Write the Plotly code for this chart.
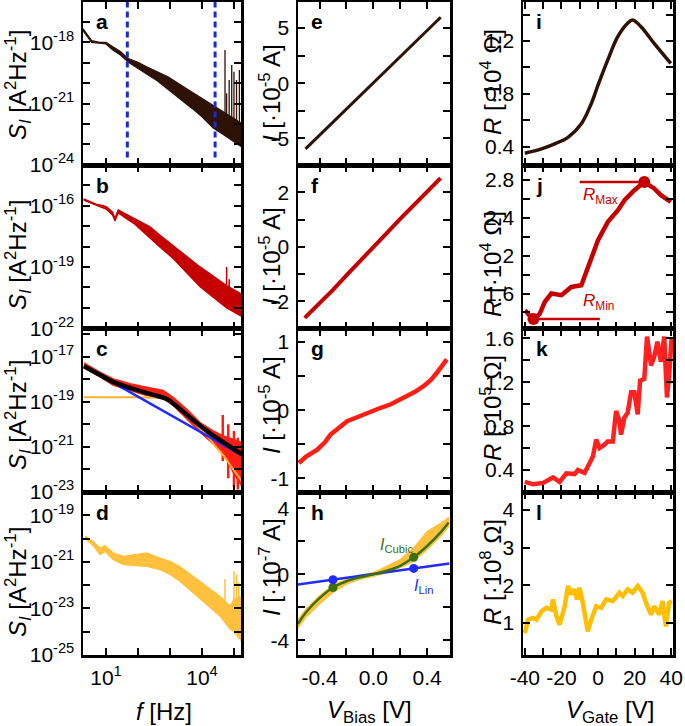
import plotly.graph_objects as go

W, H = 685, 726
FONT = "Liberation Sans"

# ---------------- data ----------------
# Column 1: noise spectra, stored as log10(f) and log10(S_I) envelopes of the noisy band
a_logf = [0.28, 0.55, 0.8, 1.0, 1.2, 1.45, 1.7, 2.0, 2.27, 2.6, 2.95, 3.3, 3.7, 4.0, 4.35, 4.7, 5.0, 5.22]
a_hi = [-17.33, -17.92, -18.0, -18.0, -18.2, -18.45, -18.8, -18.98, -19.2, -19.45, -19.7, -20.05, -20.45, -20.75, -21.1, -21.45, -21.75, -21.95]
a_lo = [-17.43, -18.0, -18.06, -18.08, -18.36, -18.62, -18.98, -19.28, -19.55, -19.88, -20.28, -20.75, -21.25, -21.65, -22.2, -22.55, -22.85, -23.1]
a_spike_logf = [4.41, 4.72, 4.77, 4.85, 4.93, 5.0, 5.08, 5.17]
a_spike_top = [-20.9, -18.38, -20.5, -19.84, -19.11, -19.44, -19.84, -19.36]
a_spike_bot = [-22.2, -22.5, -22.5, -22.6, -22.7, -22.8, -22.9, -23.0]
a_marker_logf = [1.666, 4.41]

b_logf = [0.3, 0.5, 0.71, 0.9, 1.02, 1.2, 1.28, 1.38, 1.5, 1.7, 1.9, 2.1, 2.375, 2.7, 3.1, 3.5, 3.94, 4.35, 4.77, 5.22]
b_hi = [-15.66, -15.8, -15.93, -15.98, -16.05, -16.3, -16.6, -16.2, -16.3, -16.45, -16.6, -16.8, -17.03, -17.45, -17.93, -18.45, -18.99, -19.45, -19.9, -20.3]
b_lo = [-15.72, -15.86, -16.0, -16.1, -16.18, -16.45, -16.75, -16.35, -16.48, -16.7, -16.9, -17.2, -17.6, -18.05, -18.58, -19.25, -19.97, -20.5, -21.0, -21.4]
b_spike_logf = [4.77, 4.85]
b_spike_top = [-19.0, -19.6]
b_spike_bot = [-20.6, -20.9]

c_logf = [0.31, 0.81, 1.23, 1.75, 2.27, 2.79, 3.1, 3.52, 3.94, 4.35, 4.67, 4.98, 5.24]
c_hi = [-17.27, -17.68, -17.98, -18.2, -18.35, -18.5, -18.8, -19.32, -19.92, -20.29, -20.51, -20.66, -20.8]
c_lo = [-17.49, -17.9, -18.28, -18.5, -18.73, -18.88, -19.17, -19.77, -20.36, -20.88, -21.25, -22.15, -22.75]
c_spike_logf = [4.65, 4.82, 5.0, 5.12]
c_spike_top = [-19.59, -20.0, -20.3, -20.6]
c_spike_bot = [-21.63, -22.4, -22.8, -22.9]
c_fit_logf = [0.31, 0.8, 1.23, 1.85, 2.48, 2.9, 3.21, 3.625, 4.15, 4.67, 5.24]
c_fit_total = [-17.42, -17.8, -18.13, -18.43, -18.7, -18.88, -19.2, -19.7, -20.29, -20.8, -21.33]
c_lin_logf = [0.31, 5.24]
c_lin = [-17.42, -21.38]
c_lor_logf = [0.31, 1.5, 2.5, 2.9, 3.1, 3.31, 3.52, 3.73, 3.94, 4.15, 4.4, 4.67, 4.95, 5.24]
c_lor = [-18.8, -18.8, -18.82, -18.9, -19.05, -19.28, -19.55, -19.88, -20.2, -20.5, -20.95, -21.4, -21.95, -22.52]

d_logf = [0.34, 0.6, 0.81, 0.97, 1.23, 1.54, 1.85, 2.27, 2.69, 3.0, 3.31, 3.73, 4.15, 4.56, 4.88, 5.0, 5.19, 5.22]
d_hi = [-19.88, -20.13, -20.41, -20.31, -20.62, -20.77, -20.7, -20.62, -20.84, -20.98, -21.2, -21.62, -22.05, -22.48, -22.9, -22.6, -22.5, -22.55]
d_lo = [-19.98, -20.31, -20.7, -20.56, -20.91, -21.12, -21.17, -21.2, -21.34, -21.55, -21.84, -22.33, -22.83, -23.33, -23.9, -24.0, -24.33, -24.4]
d_spike_logf = [4.72, 5.0, 5.08, 5.15]
d_spike_top = [-21.74, -21.41, -21.55, -21.9]
d_spike_bot = [-23.3, -23.6, -23.8, -24.0]

# Column 2: I-V curves
e_v = [-0.504, -0.25, 0.0, 0.25, 0.501]
e_i = [-5.94, -2.95, 0.02, 3.0, 5.97]

f_v = [-0.51, -0.4, -0.3, -0.2, -0.1, 0.0, 0.1, 0.2, 0.3, 0.4, 0.5]
f_i = [-2.61, -2.08, -1.58, -1.05, -0.55, -0.02, 0.5, 1.02, 1.52, 2.02, 2.52]

g_v = [-0.553, -0.5, -0.417, -0.36, -0.318, -0.26, -0.195, -0.13, -0.072, 0.0, 0.06, 0.126, 0.19, 0.25, 0.31, 0.373, 0.43, 0.472, 0.51, 0.546]
g_i = [-0.774, -0.68, -0.578, -0.47, -0.357, -0.27, -0.162, -0.11, -0.063, 0.0, 0.04, 0.084, 0.15, 0.206, 0.27, 0.353, 0.45, 0.55, 0.65, 0.746]

h_v = [-0.565, -0.5, -0.4, -0.3, -0.2, -0.1, 0.0, 0.1, 0.2, 0.3, 0.4, 0.5, 0.56]
h_hi = [-2.8, -2.1, -1.3, -0.65, -0.3, -0.05, 0.1, 0.5, 0.9, 1.6, 2.6, 3.1, 3.45]
h_lo = [-3.3, -2.6, -1.8, -1.1, -0.6, -0.3, -0.12, 0.1, 0.4, 0.8, 1.5, 2.3, 2.9]
h_cubic_v = [-0.56, -0.5, -0.4, -0.3, -0.2, -0.1, 0.0, 0.1, 0.2, 0.3, 0.4, 0.5, 0.56]
h_cubic_i = [-3.0, -2.3, -1.45, -0.8, -0.42, -0.18, 0.0, 0.22, 0.52, 1.03, 1.72, 2.55, 3.15]
h_lin_v = [-0.565, 0.565]
h_lin_i = [-0.63, 0.66]
h_pt_v = [-0.3, 0.3]
h_pt_cubic = [-0.8, 1.03]
h_pt_lin = [-0.33, 0.36]

# Column 3: R vs gate voltage
i_vg = [-40, -30.9, -23.7, -16.4, -9.1, -3.7, 0, 5.3, 10.8, 16.2, 18.9, 23.5, 30.7, 39.8]
i_r = [0.349, 0.382, 0.42, 0.47, 0.573, 0.725, 0.865, 1.055, 1.233, 1.335, 1.36, 1.309, 1.182, 1.03]

j_vg = [-40, -39, -35.3, -31.8, -29.1, -25.5, -20, -14.6, -9.1, -6.4, -3.7, 0, 5.4, 10.9, 14.5, 19.9, 25.3, 30.7, 34.4, 39.8]
j_r = [1.42, 1.405, 1.317, 1.388, 1.511, 1.60, 1.582, 1.67, 1.688, 1.829, 1.953, 2.164, 2.358, 2.482, 2.588, 2.694, 2.78, 2.712, 2.641, 2.57]
j_min_v, j_min_r = -35.3, 1.33
j_max_v, j_max_r = 25.3, 2.78
j_rmax_line_v = [-10, 25.3]
j_rmin_line_v = [-35.3, 1.0]

k_vg = [-40, -35.5, -30, -24.6, -21, -17.3, -12.8, -11, -7.3, -4.6, -2.8, -1, 0.8, 3.5, 5.3, 8.1, 9.9, 11.7, 12.6, 14.4, 16.2,
        18.1, 19.9, 21.7, 23, 25.3, 26.8, 28, 29, 30.7, 32.5, 34.4, 36.2, 37.7, 38.9, 40.2]
k_r = [0.292, 0.27, 0.283, 0.333, 0.292, 0.37, 0.363, 0.40, 0.375, 0.477, 0.523, 0.677, 0.60, 0.631, 0.661, 0.661, 0.938, 0.846,
       0.723, 0.877, 0.923, 1.108, 1.108, 0.908, 1.215, 1.23, 1.616, 1.477, 1.354, 1.431, 1.57, 1.385, 1.616, 1.062, 1.262, 1.60]

l_vg = [-40, -38.2, -35.5, -33.6, -30.9, -28.2, -25.5, -24.6, -22.7, -21, -18.2, -16.4, -14.6, -12.8, -11.5, -10.1, -8.3, -6.4,
        -5.6, -3.7, -1.0, 1.7, 4.5, 8.1, 11.7, 13.5, 16.2, 18.9, 21.7, 24.4, 26.2, 29, 30.7, 33.5, 35.3, 37.1, 38.9, 40.4]
l_r = [0.731, 1.089, 1.134, 1.089, 1.312, 1.403, 1.358, 1.626, 1.178, 0.954, 1.446, 1.984, 1.761, 1.895, 1.626, 1.94, 1.538, 0.866,
       0.776, 1.089, 1.446, 1.403, 1.626, 1.581, 1.806, 1.715, 1.895, 1.806, 1.984, 1.806, 1.538, 1.223, 1.446, 1.223, 1.581, 0.909,
       1.538, 1.581]

# colours
BROWN = "#2e1206"
DRED = "#c40000"
RED = "#ff1e14"
BLUE = "#1f2bff"
ORANGE = "#ffae2e"
YEL = "#ffc13d"
GREEN = "#3a7012"
GOLD = "#ffbf00"

# ---------------- geometry ----------------
COLS = [(83, 241), (298, 450), (523, 673)]
ROWS = [(1.5, 165), (165, 328.5), (328.5, 492), (492, 655)]

fig = go.Figure()


def ax(n):
    return ("x" if n == 1 else f"x{n}"), ("y" if n == 1 else f"y{n}")


def p10(v):
    return [10 ** x for x in v]


def band(n, xs, hi, lo, color, log=True):
    xa, ya = ax(n)
    if log:
        x = p10(xs) + p10(xs[::-1])
        y = p10(hi) + p10(lo[::-1])
    else:
        x = list(xs) + list(xs[::-1])
        y = list(hi) + list(lo[::-1])
    fig.add_trace(go.Scatter(x=x, y=y, mode="lines", fill="toself", fillcolor=color,
                             line=dict(color=color, width=1.2), xaxis=xa, yaxis=ya,
                             hoverinfo="skip", showlegend=False))


def spikes(n, xs, tops, bots, color, width=1.5):
    xa, ya = ax(n)
    X, Y = [], []
    for xv, t, b in zip(xs, tops, bots):
        X += [10 ** xv, 10 ** xv, None]
        Y += [10 ** b, 10 ** t, None]
    fig.add_trace(go.Scatter(x=X, y=Y, mode="lines", line=dict(color=color, width=width),
                             xaxis=xa, yaxis=ya, hoverinfo="skip", showlegend=False))


def line(n, x, y, color, width, shape="linear", dash=None):
    xa, ya = ax(n)
    fig.add_trace(go.Scatter(x=x, y=y, mode="lines", line=dict(color=color, width=width, shape=shape, dash=dash),
                             xaxis=xa, yaxis=ya, hoverinfo="skip", showlegend=False))


def pts(n, x, y, color, size):
    xa, ya = ax(n)
    fig.add_trace(go.Scatter(x=x, y=y, mode="markers", marker=dict(color=color, size=size),
                             xaxis=xa, yaxis=ya, hoverinfo="skip", showlegend=False))


# panel a
band(1, a_logf, a_hi, a_lo, BROWN)
spikes(1, a_spike_logf, a_spike_top, a_spike_bot, BROWN, 1.3)
for lf in a_marker_logf:
    line(1, [10 ** lf, 10 ** lf], [10 ** -16, 10 ** -23.75], "#1a2bd6", 3, dash="6px,4px")
# panel b
band(2, b_logf, b_hi, b_lo, DRED)
spikes(2, b_spike_logf, b_spike_top, b_spike_bot, DRED, 1.5)
# panel c
band(3, c_logf, c_hi, c_lo, RED)
spikes(3, c_spike_logf, c_spike_top, c_spike_bot, RED, 2.5)
line(3, p10(c_lor_logf), p10(c_lor), ORANGE, 2, "spline")
line(3, p10(c_lin_logf), p10(c_lin), BLUE, 2.5)
line(3, p10(c_fit_logf), p10(c_fit_total), "black", 4.5, "spline")
# panel d
band(4, d_logf, d_hi, d_lo, YEL)
spikes(4, d_spike_logf, d_spike_top, d_spike_bot, YEL, 1.5)
# panel e-h
line(5, e_v, e_i, BROWN, 3)
line(6, f_v, f_i, DRED, 4)
line(7, g_v, g_i, RED, 4.5)
band(8, h_v, h_hi, h_lo, YEL, log=False)
line(8, h_lin_v, h_lin_i, BLUE, 2.5)
line(8, h_cubic_v, h_cubic_i, GREEN, 2.5, "spline")
pts(8, h_pt_v, h_pt_cubic, GREEN, 9)
pts(8, h_pt_v, h_pt_lin, BLUE, 9)
# panel i-l
line(9, i_vg, i_r, BROWN, 3.5, "spline")
line(10, j_vg, j_r, DRED, 4.5)
line(10, j_rmax_line_v, [j_max_r, j_max_r], DRED, 2.5)
line(10, j_rmin_line_v, [j_min_r, j_min_r], DRED, 2.5)
pts(10, [j_min_v, j_max_v], [j_min_r, j_max_r], DRED, 12)
line(11, k_vg, k_r, "#ff2020", 4.5)
line(12, l_vg, l_r, GOLD, 4.5)

# ---------------- axes ----------------
def sup(e):
    return f"10<sup>{e}</sup>"


LOG_X = dict(type="log", range=[0.28, 5.22], tickvals=[10, 100, 1e3, 1e4, 1e5],
             ticktext=[sup(1), "", "", sup(4), ""])
BIAS_X = dict(range=[-0.56, 0.57], tickvals=[-0.4, -0.2, 0, 0.2, 0.4], ticktext=["-0.4", "", "0.0", "", "0.4"])
GATE_X = dict(range=[-41, 41], tickvals=list(range(-40, 41, 10)),
              ticktext=["-40", "", "-20", "", "0", "", "20", "", "40"])


def logy(lo, hi, labels):
    vals = list(range(lo, int(hi) + (0 if hi == int(hi) else 1)))
    vals = [v for v in vals if v <= hi]
    return dict(type="log", range=[lo - 0.01, hi], tickvals=[10 ** v for v in vals],
                ticktext=[sup(v) if v in labels else "" for v in vals])


def liny(rng, vals, labels):
    return dict(range=rng, tickvals=vals, ticktext=[labels.get(v, "") for v in vals])


YCFG = [
    logy(-24, -16, [-18, -21, -24]),
    logy(-22, -14, [-16, -19, -22]),
    logy(-23, -15.75, [-17, -19, -21, -23]),
    logy(-25, -18, [-19, -21, -23, -25]),
    liny([-7.4, 7.4], [-5, -2.5, 0, 2.5, 5], {-5: "-5", 0: "0", 5: "5"}),
    liny([-3, 3], [-2, -1, 0, 1, 2], {-2: "-2", 0: "0", 2: "2"}),
    liny([-1.2, 1.2], [-1, -0.5, 0, 0.5, 1], {-1: "-1", 0: "0", 1: "1"}),
    liny([-4.9, 5.0], [-4, -2, 0, 2, 4], {-4: "-4", 0: "0", 4: "4"}),
    liny([0.26, 1.5], [0.4, 0.6, 0.8, 1.0, 1.2, 1.4], {0.4: "0.4", 0.8: "0.8", 1.2: "1.2"}),
    liny([1.23, 2.96], [1.4, 1.6, 1.8, 2.0, 2.2, 2.4, 2.6, 2.8], {1.6: "1.6", 2.0: "2", 2.4: "2.4", 2.8: "2.8"}),
    liny([0.2, 1.69], [0.4, 0.6, 0.8, 1.0, 1.2, 1.4, 1.6], {0.4: "0.4", 0.8: "0.8", 1.2: "1.2", 1.6: "1.6"}),
    liny([0.15, 4.48], [1, 2, 3, 4], {1: "1", 2: "2", 3: "3", 4: "4"}),
]

COMMON = dict(showline=True, linecolor="black", linewidth=2.5, mirror="ticks", ticks="inside", ticklen=7,
              tickwidth=2, tickcolor="black", showgrid=False, zeroline=False, tickmode="array",
              automargin=False, ticklabelstandoff=2,
              tickfont=dict(family=FONT, size=21, color="black"))

layout = {}
for n in range(1, 13):
    c = (n - 1) // 4
    r = (n - 1) % 4
    x0, x1 = COLS[c]
    t, b = ROWS[r]
    xd = [x0 / W, x1 / W]
    yd = [1 - b / H, 1 - t / H]
    xk = "xaxis" if n == 1 else f"xaxis{n}"
    yk = "yaxis" if n == 1 else f"yaxis{n}"
    xc = [LOG_X, BIAS_X, GATE_X][c]
    layout[xk] = dict(COMMON, domain=xd, anchor=ax(n)[1], showticklabels=(r == 3), **xc)
    layout[yk] = dict(COMMON, domain=yd, anchor=ax(n)[0], **YCFG[n - 1])

# ---------------- annotations ----------------
ann = []
letters = "abcdefghijkl"
for n in range(1, 13):
    c = (n - 1) // 4
    r = (n - 1) % 4
    ann.append(dict(text=f"<b>{letters[n-1]}</b>", xref="paper", yref="paper",
                    x=(COLS[c][0] + 11) / W, y=1 - (ROWS[r][0] + 20) / H, xanchor="left", yanchor="middle",
                    showarrow=False, font=dict(family=FONT, size=21, color="black")))

ytitles = [
    "<i>S</i><sub><i>I</i></sub> [A<sup>2</sup>Hz<sup>-1</sup>]",
    "<i>I</i> [·10<sup>-5</sup> A]",
    "<i>I</i> [·10<sup>-5</sup> A]",
    "<i>I</i> [·10<sup>-5</sup> A]",
    "<i>I</i> [·10<sup>-7</sup> A]",
    "<i>R</i> [·10<sup>4</sup> Ω]",
    "<i>R</i> [·10<sup>4</sup> Ω]",
    "<i>R</i> [·10<sup>5</sup> Ω]",
    "<i>R</i> [·10<sup>8</sup> Ω]",
]
title_x = [18, 270, 491]
title_y = [[85, 255, 415, 582], [93, 256, 405, 567], [82, 264, 408, 572]]
col_titles = [[ytitles[0]] * 4, ytitles[1:5], ytitles[5:9]]
for c in range(3):
    for r in range(4):
        ann.append(dict(text=col_titles[c][r], xref="paper", yref="paper", x=title_x[c] / W,
                        y=1 - title_y[c][r] / H, textangle=-90, showarrow=False,
                        xanchor="center", yanchor="middle",
                        font=dict(family=FONT, size=24, color="black")))

xtitles = ["<i>f</i> [Hz]", "<i>V</i><sub>Bias</sub> [V]", "<i>V</i><sub>Gate</sub> [V]"]
xt_x = [164, 369, 610]
for c in range(3):
    ann.append(dict(text=xtitles[c], xref="paper", yref="paper", x=xt_x[c] / W, y=1 - 711 / H,
                    xanchor="center", yanchor="middle", showarrow=False,
                    font=dict(family=FONT, size=24, color="black")))

# in-panel labels
ann.append(dict(text="<i>I</i><sub>Cubic</sub>", xref="x8", yref="y8", x=0.037, y=1.75, xanchor="left",
                yanchor="middle", showarrow=False, font=dict(family=FONT, size=16, color=GREEN)))
ann.append(dict(text="<i>I</i><sub>Lin</sub>", xref="x8", yref="y8", x=0.29, y=-0.72, xanchor="left",
                yanchor="middle", showarrow=False, font=dict(family=FONT, size=16, color=BLUE)))
ann.append(dict(text="<i>R</i><sub>Max</sub>", xref="x10", yref="y10", x=-9.5, y=2.63, xanchor="left",
                yanchor="middle", showarrow=False, font=dict(family=FONT, size=17, color=DRED)))
ann.append(dict(text="<i>R</i><sub>Min</sub>", xref="x10", yref="y10", x=-9.5, y=1.51, xanchor="left",
                yanchor="middle", showarrow=False, font=dict(family=FONT, size=17, color=DRED)))

fig.update_layout(layout)
fig.update_layout(width=W, height=H, margin=dict(l=0, r=0, t=0, b=0), autosize=False,
                  paper_bgcolor="white", plot_bgcolor="white", showlegend=False,
                  annotations=ann, font=dict(family=FONT, color="black"))

fig.write_html("out.html",
               config={"displayModeBar": False, "staticPlot": True},
               post_script="document.body.style.margin='0';document.body.style.padding='0';"
                           "document.body.style.overflow='hidden';")
